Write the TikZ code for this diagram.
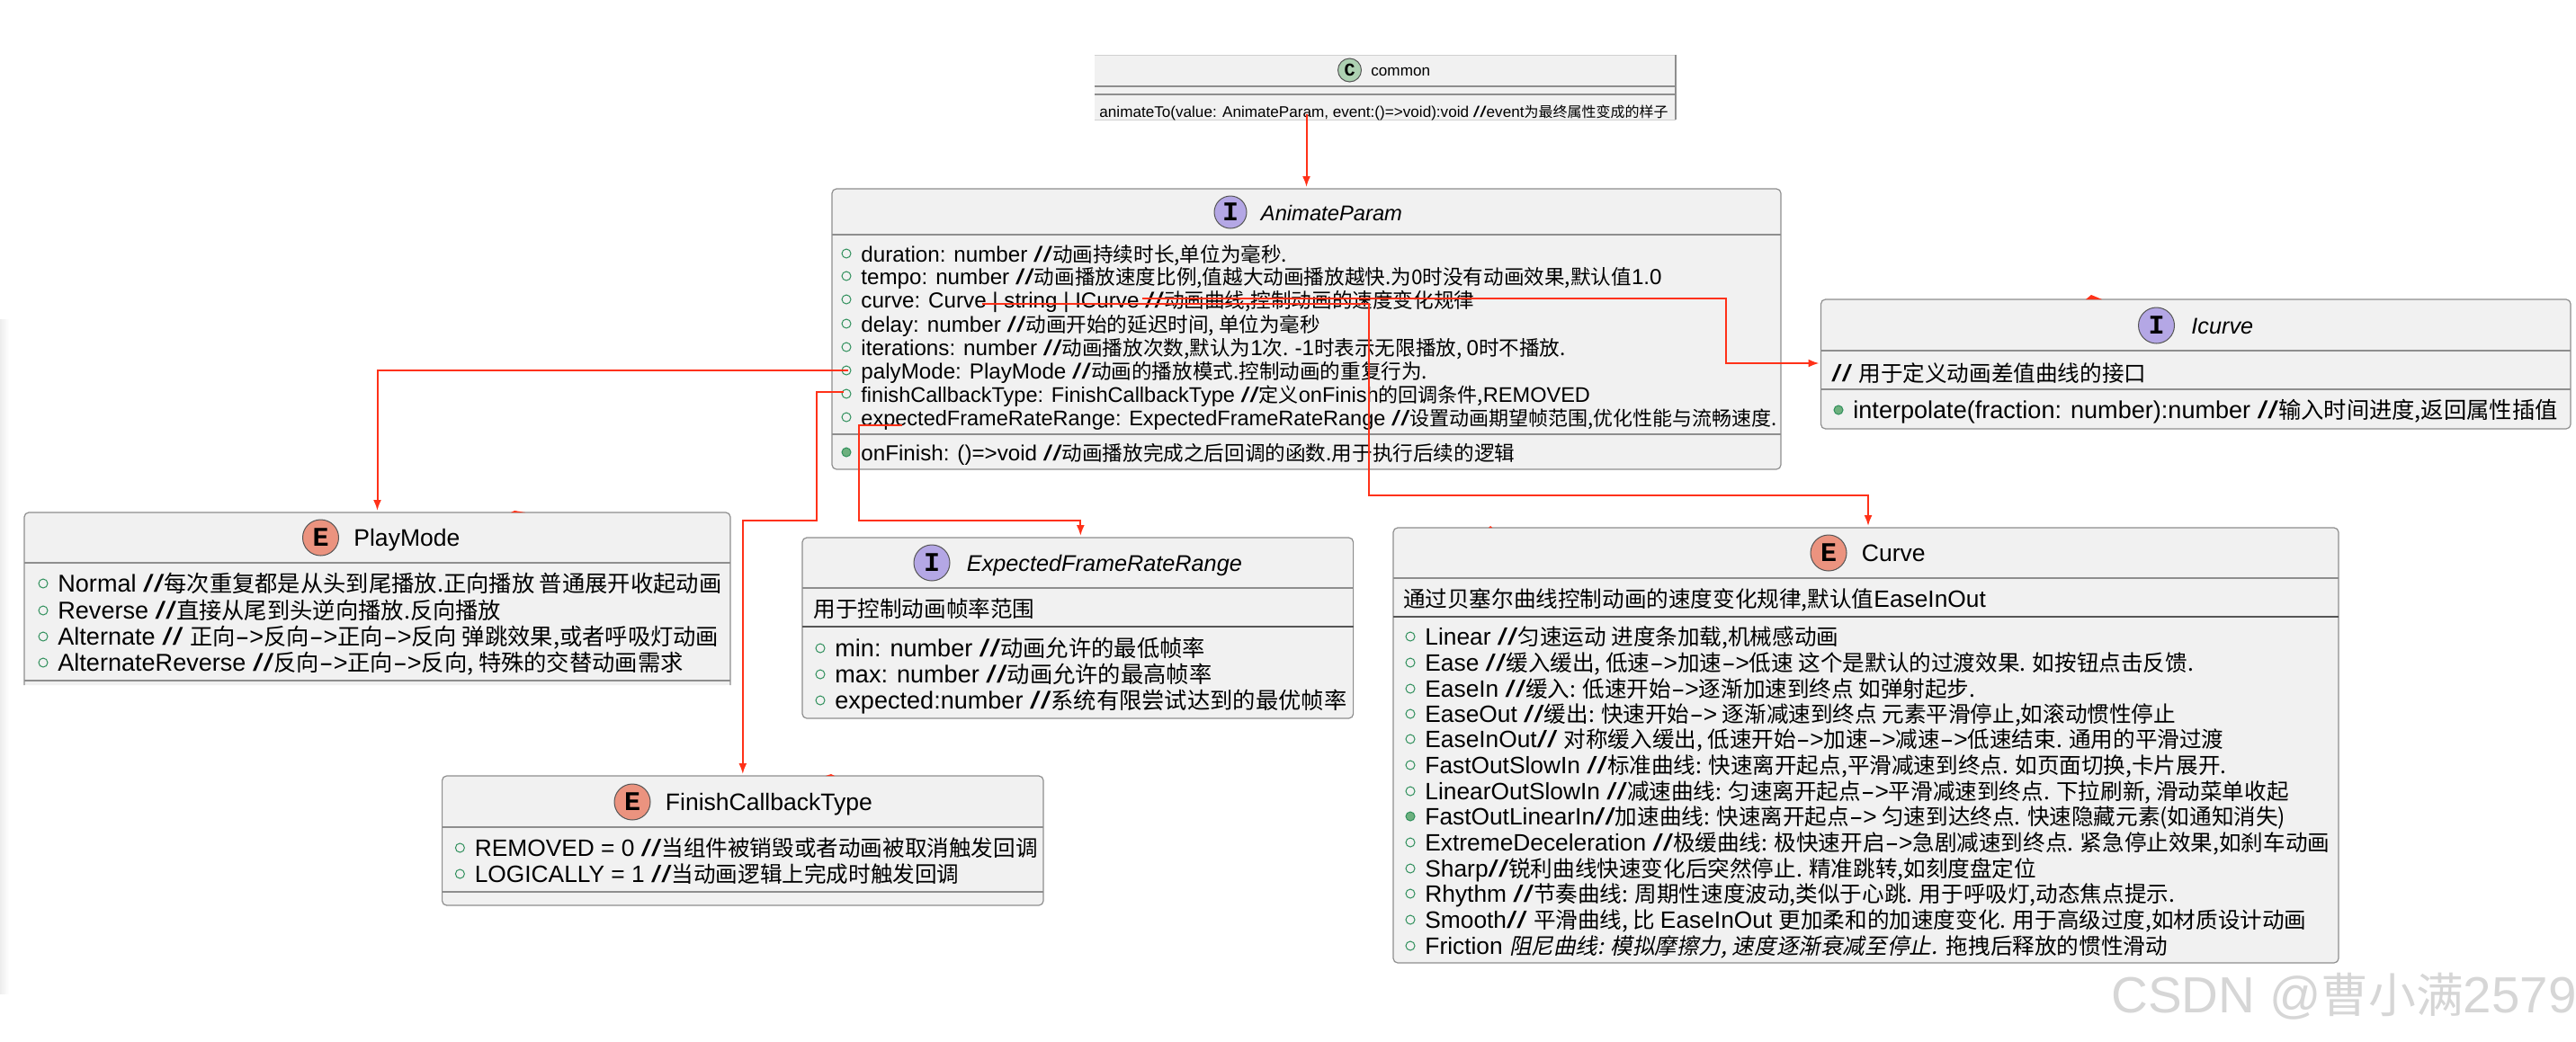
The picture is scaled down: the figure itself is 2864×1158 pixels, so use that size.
\documentclass[tikz,border=0pt]{standalone}
\usepackage{fontspec}
\setmainfont[Scale=1.07]{Liberation Sans}
\setmonofont{Liberation Mono}
\newfontfamily\cjk[AutoFakeSlant=0.2]{Noto Sans CJK SC}
\usetikzlibrary{arrows.meta,positioning,fit}
\definecolor{linkred}{HTML}{FF3118}
\definecolor{boxfill}{HTML}{F1F1F1}
\definecolor{boxline}{HTML}{8E8E8E}
\definecolor{paleline}{HTML}{D0D0D0}
\definecolor{darkline}{HTML}{555555}
\definecolor{ifacepurple}{HTML}{B4A7E5}
\definecolor{enumsalmon}{HTML}{EB937F}
\definecolor{classgreen}{HTML}{ADD1B2}
\definecolor{markgreen}{HTML}{2F8F5B}
\definecolor{markfill}{HTML}{6DB07E}
\definecolor{stampgray}{HTML}{D6D6D6}
\tikzset{
  link/.style={-{Latex[length=6pt,width=4.5pt]}, line width=1pt, draw=linkred, shorten >=1pt},
  umlbox/.style={rounded corners=2.5pt, draw=boxline, fill=boxfill, line width=0.6pt, inner sep=0pt, outer sep=0pt},
  openbox/.style={rounded corners=2.5pt, fill=boxfill, inner sep=0pt, outer sep=0pt},
  headrule/.style={draw=boxline, line width=0.7pt},
  bodyrule/.style={draw=darkline, line width=0.7pt},
  spot/.style={circle, draw=darkline, line width=0.5pt, inner sep=0pt, minimum size=20pt,
               font=\fontsize{15}{15}\ttfamily\bfseries\selectfont},
  titletext/.style={inner sep=0pt, text height=10.5pt, text depth=1pt, font=\fontsize{12.4}{15}\selectfont},
  rowtext/.style={anchor=west, inner sep=0pt, text height=11pt, text depth=1.6pt, font=\fontsize{12.3}{15}\selectfont},
  widerow/.style={rowtext, font=\fontsize{12.65}{15}\selectfont},
  smallrow/.style={rowtext, font=\fontsize{11.3}{15}\selectfont},
  tightrow/.style={rowtext, font=\fontsize{11}{15}\selectfont},
  tinyrow/.style={rowtext, font=\fontsize{8}{10}\selectfont},
  fieldmark/.style={draw=markgreen, line width=0.5pt},
  methodmark/.style={draw=markgreen, fill=markfill, line width=0.5pt},
  strayred/.style={fill=linkred}
}
\newcommand{\zh}[1]{{\cjk #1}}
\newcommand{\slashes}{\scalebox{1.55}[1]{//}}
\newcommand{\toarrow}{{\rmfamily\scalebox{1.75}[1]{-}>}}
\newcommand{\fieldrow}[5][rowtext]{%
  \node[#1] (#2) at (#3,#4) {#5};
  \draw[fieldmark] (#3-16,#4) circle (2.5pt);}
\newcommand{\methodrow}[5][rowtext]{%
  \node[#1] (#2) at (#3,#4) {#5};
  \draw[methodmark] (#3-16,#4) circle (2.5pt);}

\begin{document}
\begin{tikzpicture}[x=0.5pt,y=-0.5pt]
  \useasboundingbox (0,0) rectangle (2864,1158);
  \fill[left color=black!7, right color=white, draw=none] (0,355) rectangle (10,1105);

  % common
  \node[openbox, rounded corners=0pt, fit={(1217,61)(1863,133)}] (common) {};
  \draw[draw=paleline, line width=0.5pt] (common.north west) -- (common.north east);
  \draw[draw=paleline, line width=0.5pt] (common.south west) -- (common.south east);
  \draw[draw=boxline, line width=0.6pt] (common.north east) -- (common.south east);
  \node[spot, minimum size=13pt, fill=classgreen, font=\fontsize{10}{10}\ttfamily\bfseries\selectfont] (commonspot) at (1500.5,78) {C};
  \node[titletext, right=5pt of commonspot, text height=6.5pt, text depth=0.5pt, font=\fontsize{8}{10}\selectfont] (commontitle) {common};
  \draw[headrule] (1217,96) -- (1863,96);
  \draw[headrule] (1217,105) -- (1863,105);
  \node[tinyrow] (commonmethod) at (1222,121) {animateTo(value: AnimateParam, event:()=>void):void \slashes event\zh{为最终属性变成的样子}};

  % AnimateParam
  \node[umlbox, fit={(925,210)(1980,522)}] (animateparam) {};
  \node[spot, minimum size=18pt, fill=ifacepurple] (animateparamspot) at (1368,236) {I};
  \node[titletext, right=7.5pt of animateparamspot, font=\fontsize{11.1}{15}\itshape\selectfont] (animateparamtitle) {AnimateParam};
  \draw[headrule] (925,261) -- (1980,261);
  \draw[headrule] (925,483) -- (1980,483);
  \fieldrow[smallrow]{rowduration}{957}{282}{duration: number \slashes\zh{动画持续时长,单位为毫秒.}}
  \fieldrow[smallrow]{rowtempo}{957}{307}{tempo: number \slashes\zh{动画播放速度比例,值越大动画播放越快.为0时没有动画效果,默认值}1.0}
  \fieldrow[smallrow]{rowcurve}{957}{333}{curve: Curve | string | ICurve \slashes\zh{动画曲线,控制动画的速度变化规律}}
  \fieldrow[smallrow]{rowdelay}{957}{360}{delay: number \slashes\zh{动画开始的延迟时间, 单位为毫秒}}
  \fieldrow[smallrow]{rowiterations}{957}{386}{iterations: number \slashes\zh{动画播放次数,默认为}1\zh{次. }-1\zh{时表示无限播放, }0\zh{时不播放.}}
  \fieldrow[smallrow]{rowplaymode}{957}{412}{palyMode: PlayMode \slashes\zh{动画的播放模式.控制动画的重复行为.}}
  \fieldrow[tightrow]{rowfinish}{957}{438}{finishCallbackType: FinishCallbackType \slashes\zh{定义}onFinish\zh{的回调条件,}REMOVED}
  \fieldrow[tightrow]{rowexpected}{957}{464}{expectedFrameRateRange: ExpectedFrameRateRange \slashes\zh{设置动画期望帧范围,优化性能与流畅速度.}}
  \methodrow[smallrow]{rowonfinish}{957}{503}{onFinish: ()=>void \slashes\zh{动画播放完成之后回调的函数.用于执行后续的逻辑}}

  % Icurve
  \node[umlbox, fit={(2024.5,333)(2858,477)}] (icurve) {};
  \node[spot, fill=ifacepurple] (icurvespot) at (2397.5,362) {I};
  \node[titletext, right=9pt of icurvespot, font=\fontsize{11.8}{15}\itshape\selectfont] (icurvetitle) {Icurve};
  \draw[headrule] (2024.5,390) -- (2858,390);
  \draw[headrule] (2024.5,433) -- (2858,433);
  \node[rowtext] (icurvenote) at (2036,415) {\slashes\ \zh{用于定义动画差值曲线的接口}};
  \methodrow[widerow]{rowinterpolate}{2060}{456}{interpolate(fraction: number):number \slashes\zh{输入时间进度,返回属性插值}}

  % PlayMode
  \node[openbox, fit={(27,570)(812,762)}] (playmode) {};
  \fill[boxfill] (27,755) rectangle (812,762);
  \draw[draw=boxline, line width=0.6pt, rounded corners=2.5pt] (playmode.south west) -- (playmode.north west) -- (playmode.north east) -- (playmode.south east);
  \node[spot, fill=enumsalmon] (playmodespot) at (356.5,598) {E};
  \node[titletext, right=8pt of playmodespot] (playmodetitle) {PlayMode};
  \draw[headrule] (27,626) -- (812,626);
  \draw[headrule] (27,757) -- (812,757);
  \fieldrow[widerow]{rownormal}{64}{649}{Normal \slashes\zh{每次重复都是从头到尾播放.正向播放 普通展开收起动画}}
  \fieldrow[widerow]{rowreverse}{64}{679}{Reverse \slashes\zh{直接从尾到头逆向播放.反向播放}}
  \fieldrow[widerow]{rowalternate}{64}{708}{Alternate \slashes\ \zh{正向\toarrow 反向\toarrow 正向\toarrow 反向 弹跳效果,或者呼吸灯动画}}
  \fieldrow[widerow]{rowaltreverse}{64}{737}{AlternateReverse \slashes\zh{反向\toarrow 正向\toarrow 反向, 特殊的交替动画需求}}

  % ExpectedFrameRateRange
  \node[umlbox, fit={(892,598)(1504.6,799)}] (framerange) {};
  \node[spot, fill=ifacepurple] (framerangespot) at (1036,626) {I};
  \node[titletext, right=9pt of framerangespot, font=\fontsize{11.8}{15}\itshape\selectfont] (framerangetitle) {ExpectedFrameRateRange};
  \draw[headrule] (892,654) -- (1504.6,654);
  \draw[bodyrule] (892,697) -- (1504.6,697);
  \node[rowtext] (framerangenote) at (904,677) {\zh{用于控制动画帧率范围}};
  \fieldrow[widerow]{rowmin}{928}{721}{min: number \slashes\zh{动画允许的最低帧率}}
  \fieldrow[widerow]{rowmax}{928}{750}{max: number \slashes\zh{动画允许的最高帧率}}
  \fieldrow[widerow]{rowoptimal}{928}{779}{expected:number \slashes\zh{系统有限尝试达到的最优帧率}}

  % FinishCallbackType
  \node[umlbox, fit={(491.6,863)(1160,1007)}] (finishtype) {};
  \node[spot, fill=enumsalmon] (finishtypespot) at (703,892) {E};
  \node[titletext, right=8pt of finishtypespot] (finishtypetitle) {FinishCallbackType};
  \draw[headrule] (491.6,920) -- (1160,920);
  \draw[headrule] (491.6,992) -- (1160,992);
  \fieldrow{rowremoved}{527.4}{943}{REMOVED = 0 \slashes\zh{当组件被销毁或者动画被取消触发回调}}
  \fieldrow{rowlogically}{527.4}{972}{LOGICALLY = 1 \slashes\zh{当动画逻辑上完成时触发回调}}

  % Curve
  \node[umlbox, fit={(1549,587)(2600,1071)}] (curve) {};
  \node[spot, fill=enumsalmon] (curvespot) at (2033,615) {E};
  \node[titletext, right=8pt of curvespot] (curvetitle) {Curve};
  \draw[headrule] (1549,643) -- (2600,643);
  \draw[bodyrule] (1549,686) -- (2600,686);
  \node[rowtext] (curvenote) at (1559.6,666) {\zh{通过贝塞尔曲线控制动画的速度变化规律,默认值}EaseInOut};
  \fieldrow{rowlinear}{1584}{708}{Linear \slashes\zh{匀速运动 进度条加载,机械感动画}}
  \fieldrow{rowease}{1584}{737}{Ease \slashes\zh{缓入缓出, 低速\toarrow 加速\toarrow 低速 这个是默认的过渡效果. 如按钮点击反馈.}}
  \fieldrow{roweasein}{1584}{766}{EaseIn \slashes\zh{缓入: 低速开始\toarrow 逐渐加速到终点 如弹射起步.}}
  \fieldrow{roweaseout}{1584}{794}{EaseOut \slashes\zh{缓出: 快速开始\toarrow\ 逐渐减速到终点 元素平滑停止,如滚动惯性停止}}
  \fieldrow{roweaseinout}{1584}{822}{EaseInOut\slashes\ \zh{对称缓入缓出, 低速开始\toarrow 加速\toarrow 减速\toarrow 低速结束. 通用的平滑过渡}}
  \fieldrow{rowfastslow}{1584}{851}{FastOutSlowIn \slashes\zh{标准曲线: 快速离开起点,平滑减速到终点. 如页面切换,卡片展开.}}
  \fieldrow{rowlinearslow}{1584}{880}{LinearOutSlowIn \slashes\zh{减速曲线: 匀速离开起点\toarrow 平滑减速到终点. 下拉刷新, 滑动菜单收起}}
  \methodrow{rowfastlinear}{1584}{908}{FastOutLinearIn\slashes\zh{加速曲线: 快速离开起点\toarrow\ 匀速到达终点. 快速隐藏元素(如通知消失)}}
  \fieldrow{rowextreme}{1584}{937}{ExtremeDeceleration \slashes\zh{极缓曲线: 极快速开启\toarrow 急剧减速到终点. 紧急停止效果,如刹车动画}}
  \fieldrow{rowsharp}{1584}{966}{Sharp\slashes\zh{锐利曲线快速变化后突然停止. 精准跳转,如刻度盘定位}}
  \fieldrow{rowrhythm}{1584}{994}{Rhythm \slashes\zh{节奏曲线: 周期性速度波动,类似于心跳. 用于呼吸灯,动态焦点提示.}}
  \fieldrow{rowsmooth}{1584}{1023}{Smooth\slashes\ \zh{平滑曲线, 比 }EaseInOut \zh{更加柔和的加速度变化. 用于高级过度,如材质设计动画}}
  \fieldrow{rowfriction}{1584}{1052}{Friction {\itshape\zh{阻尼曲线: 模拟摩擦力, 速度逐渐衰减至停止.}} \zh{拖拽后释放的惯性滑动}}

  \node[anchor=west, inner sep=0pt, text=stampgray, font=\fontsize{26.4}{30}\selectfont] (stamp) at (2347,1108) {CSDN @\zh{曹小满}2579};

  % links start inside the rows they come from
  \coordinate (commonout) at (1452.5,127);
  \coordinate (curveout) at (1270,332);
  \coordinate (curvebend) at (1919.4,404);
  \coordinate (enumout) at (1092,338);
  \coordinate (enumbend) at (1522,551);
  \coordinate (playout) at (943,412);
  \coordinate (finishout) at (938,436);
  \coordinate (finishmid) at (908,579);
  \coordinate (rangeout) at (1002.5,473);
  \coordinate (rangemid) at (954.5,579);

  \draw[link] (commonout) -- (animateparam.north);
  \draw[link] (curveout) -| (curvebend) -- (curvebend -| icurve.west);
  \draw[link] (enumout) -| (enumbend) -| ([xshift=1.25pt]curve.north);
  \draw[link] (playout) -| (playmode.north);
  \draw[link] (finishout) -| (finishmid) -| (finishtype.north);
  \draw[link] (rangeout) -| (rangemid) -| ([xshift=1.5pt]framerange.north);

  % leftovers of the screenshot on the box edges
  \fill[strayred] (2319,333) -- (2325,328) -- (2337,333) -- cycle;
  \fill[strayred] (568,570) -- (572,568) -- (584,570) -- cycle;
  \fill[strayred] (918,863) -- (924,861) -- (928,863) -- cycle;
  \fill[strayred] (1655,587) -- (1657,585) -- (1659,587) -- cycle;
\end{tikzpicture}
\end{document}
